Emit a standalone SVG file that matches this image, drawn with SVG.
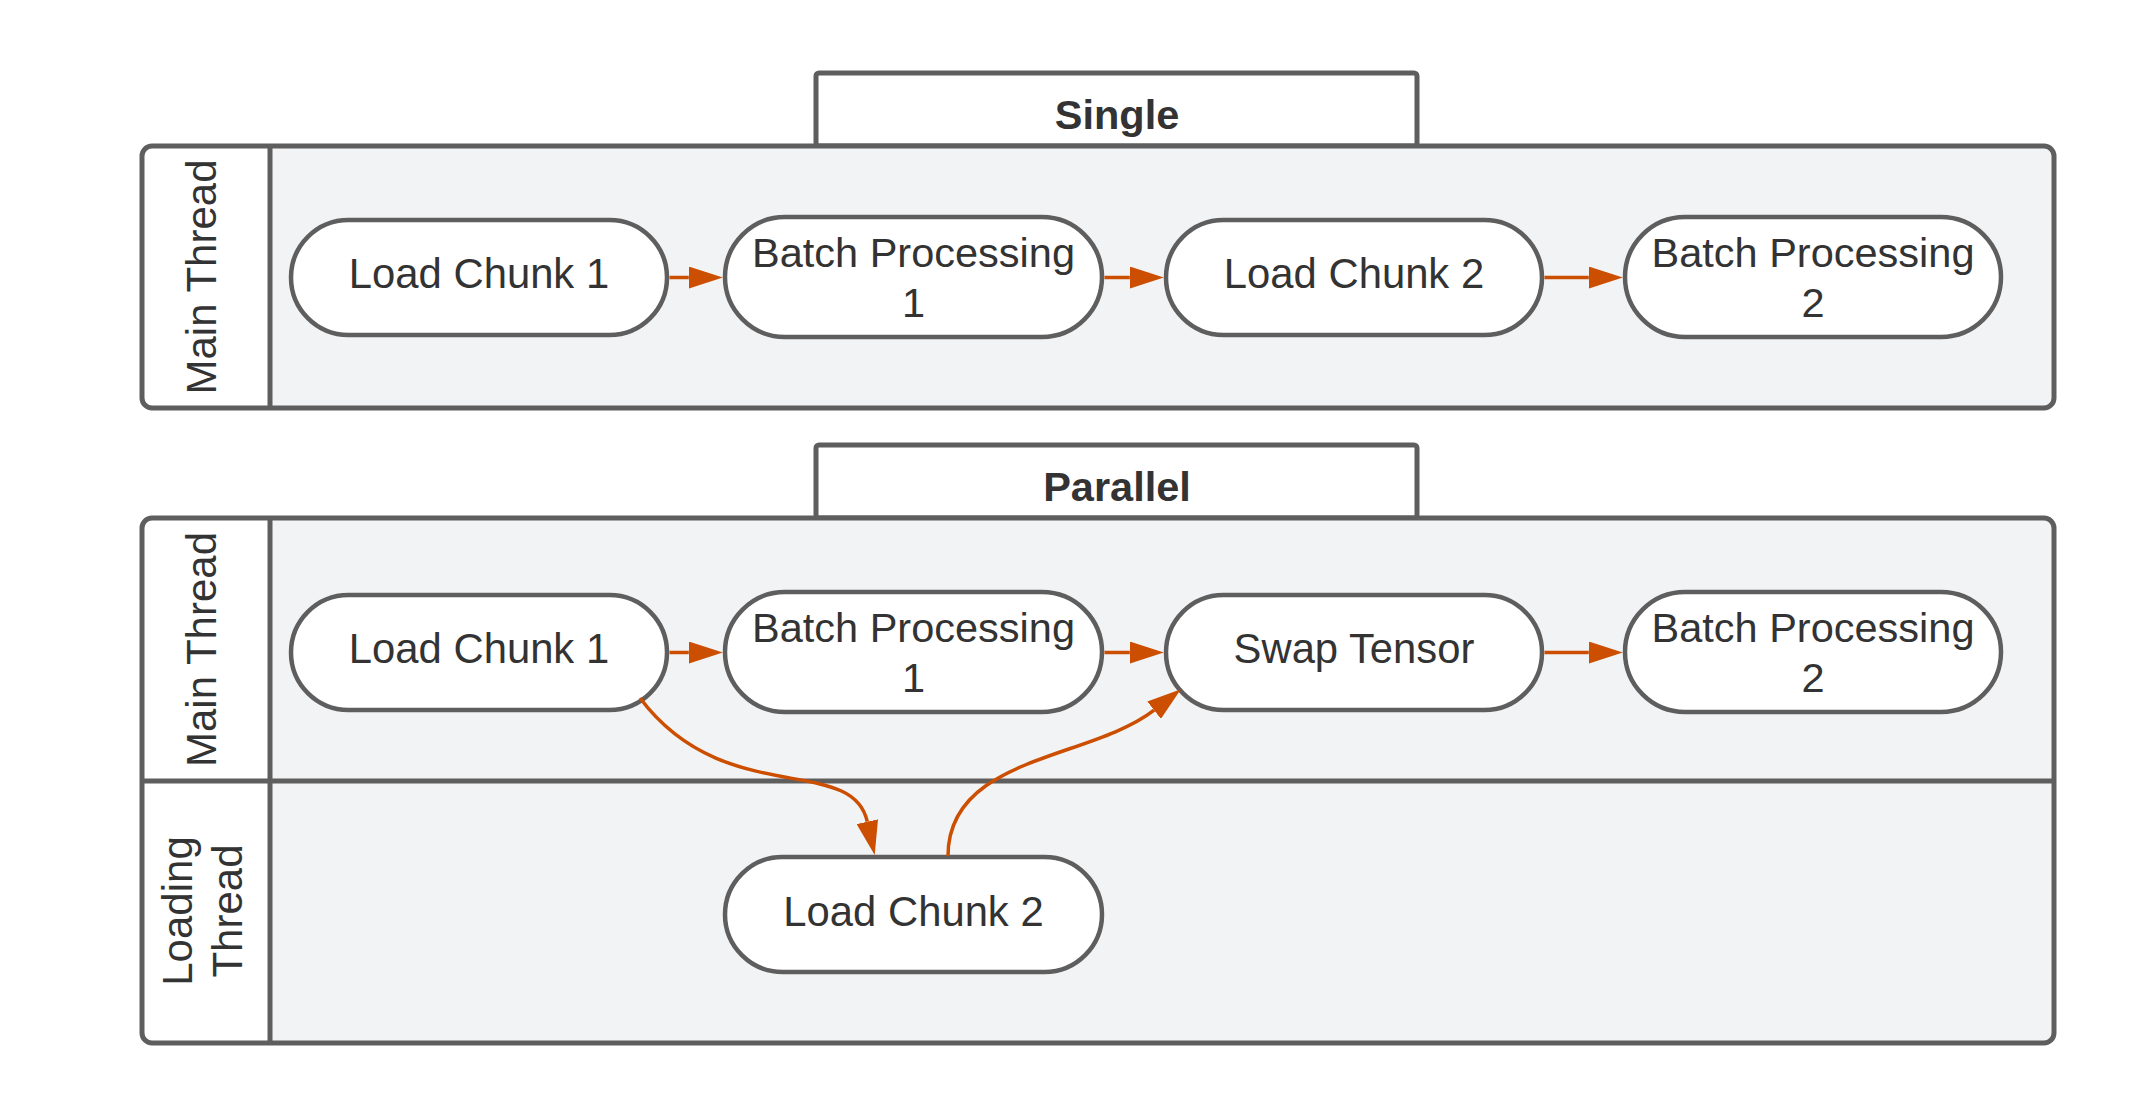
<svg xmlns="http://www.w3.org/2000/svg" width="2130" height="1119" viewBox="0 0 2130 1119">
<defs>
<style>
.bg{fill:#ffffff}
.lane{fill:#f2f3f5}
.hdr{fill:#ffffff}
.outline{fill:none;stroke:#5e5e5e;stroke-width:5}
.tab{fill:#ffffff;stroke:#5e5e5e;stroke-width:5}
.sep{stroke:#5e5e5e;stroke-width:5;fill:none}
.node{fill:#ffffff;stroke:#5e5e5e;stroke-width:4.5}
.t{font-family:"Liberation Sans",Arial,sans-serif;font-size:41.8px;fill:#333333;text-anchor:middle}
.bp{font-size:41.5px}
.title{font-weight:bold;font-size:41.5px}
.lbl{font-size:42px}
.conn{stroke:#cc4e00;stroke-width:3.5;fill:none;marker-end:url(#arr)}
</style>
<marker id="arr" viewBox="0 0 34 22" refX="0" refY="11" markerWidth="34" markerHeight="22" markerUnits="userSpaceOnUse" orient="auto">
<path d="M0,0 L34,11 L0,22 Z" fill="#cc4e00"/>
</marker>
</defs>
<rect x="0" y="0" width="2130" height="1119" fill="#ffffff"/>

<g id="pool-single">
<rect class="tab" x="816" y="73" width="601" height="73" rx="3"/>
<text class="t title" x="1117" y="129">Single</text>
<rect class="hdr" x="142" y="146" width="1912" height="262" rx="10"/>
<path class="lane" d="M270,146 H2044 A10,10 0 0 1 2054,156 V398 A10,10 0 0 1 2044,408 H270 Z"/>
<rect class="outline" x="142" y="146" width="1912" height="262" rx="10"/>
<line class="sep" x1="270" y1="146" x2="270" y2="408"/>
<text class="t lbl" transform="translate(216,277) rotate(-90)" x="0" y="0">Main Thread</text>
</g>

<g id="pool-parallel">
<rect class="tab" x="816" y="445" width="601" height="73" rx="3"/>
<text class="t title" x="1117" y="501">Parallel</text>
<rect class="hdr" x="142" y="518" width="1912" height="525" rx="10"/>
<path class="lane" d="M270,518 H2044 A10,10 0 0 1 2054,528 V1033 A10,10 0 0 1 2044,1043 H270 Z"/>
<rect class="outline" x="142" y="518" width="1912" height="525" rx="10"/>
<line class="sep" x1="270" y1="518" x2="270" y2="1043"/>
<line class="sep" x1="142" y1="781" x2="2054" y2="781"/>
<text class="t lbl" transform="translate(216,649.5) rotate(-90)" x="0" y="0">Main Thread</text>
<text class="t lbl" transform="translate(192,911) rotate(-90)"><tspan x="0" y="0">Loading</tspan><tspan x="0" y="49.7">Thread</tspan></text>
</g>

<g id="s-load1">
<rect class="node" x="291" y="220" width="376" height="115" rx="57.5"/>
<text class="t" x="479" y="288">Load Chunk 1</text>
</g>
<g id="s-batch1">
<rect class="node" x="725" y="217" width="377" height="120" rx="60"/>
<text class="t bp" x="913.5"><tspan x="913.5" y="267">Batch Processing</tspan><tspan x="913.5" y="317">1</tspan></text>
</g>
<g id="s-load2">
<rect class="node" x="1166" y="220" width="376" height="115" rx="57.5"/>
<text class="t" x="1354" y="288">Load Chunk 2</text>
</g>
<g id="s-batch2">
<rect class="node" x="1625" y="217" width="376" height="120" rx="60"/>
<text class="t bp" x="1813"><tspan x="1813" y="267">Batch Processing</tspan><tspan x="1813" y="317">2</tspan></text>
</g>

<g id="p-load1">
<rect class="node" x="291" y="595" width="376" height="115" rx="57.5"/>
<text class="t" x="479" y="663">Load Chunk 1</text>
</g>
<g id="p-batch1">
<rect class="node" x="725" y="592" width="377" height="120" rx="60"/>
<text class="t bp" x="913.5"><tspan x="913.5" y="642">Batch Processing</tspan><tspan x="913.5" y="692">1</tspan></text>
</g>
<g id="p-swap">
<rect class="node" x="1166" y="595" width="376" height="115" rx="57.5"/>
<text class="t" x="1354" y="663">Swap Tensor</text>
</g>
<g id="p-batch2">
<rect class="node" x="1625" y="592" width="376" height="120" rx="60"/>
<text class="t bp" x="1813"><tspan x="1813" y="642">Batch Processing</tspan><tspan x="1813" y="692">2</tspan></text>
</g>
<g id="p-load2">
<rect class="node" x="725" y="857" width="377" height="115" rx="57.5"/>
<text class="t" x="913.5" y="926">Load Chunk 2</text>
</g>

<g id="connectors">
<path class="conn" d="M669.5,277.5 H688.8"/>
<path class="conn" d="M1104.5,277.5 H1129.8"/>
<path class="conn" d="M1544.5,277.5 H1588.8"/>
<path class="conn" d="M669.5,652.5 H688.8"/>
<path class="conn" d="M1104.5,652.5 H1129.8"/>
<path class="conn" d="M1544.5,652.5 H1588.8"/>
<path class="conn" d="M640,698 C724,810 852,753 867.3,821.7"/>
<path class="conn" d="M948,856 C948,756 1091,759.5 1154.1,710.2"/>
</g>
</svg>
